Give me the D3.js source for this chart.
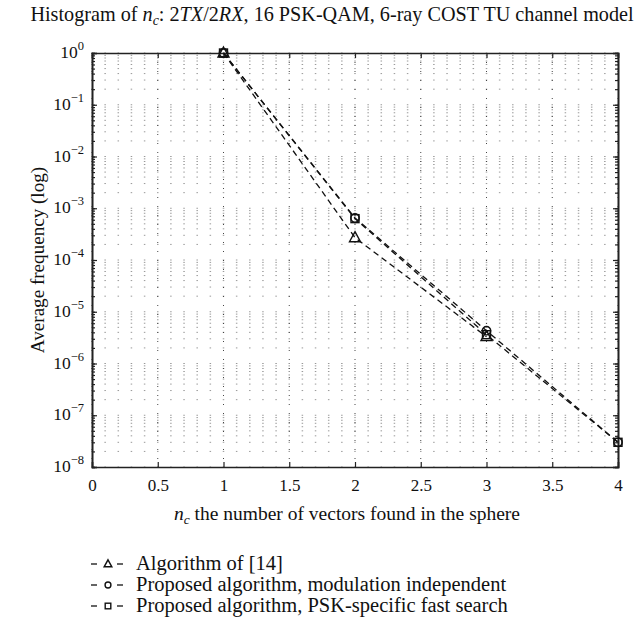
<!DOCTYPE html>
<html><head><meta charset="utf-8">
<script src="https://cdn.jsdelivr.net/npm/d3@7"></script>
<style>body{margin:0;background:#fff}text{font-family:"Liberation Serif","DejaVu Serif",serif;fill:#111}</style>
</head><body><svg id="c" width="641" height="625"></svg>
<script>
const xValues = [1, 2, 3, 4];
const alg14 = [1, 2.7e-4, 3.3e-6, null];
const propIndep = [1, 6.5e-4, 4.3e-6, 3.0e-8];
const propPSK = [1, 6.3e-4, 3.6e-6, 3.0e-8];
const xTicks = [0, 0.5, 1, 1.5, 2, 2.5, 3, 3.5, 4];
const yTickExps = [0, -1, -2, -3, -4, -5, -6, -7, -8];
const seriesNames = ["Algorithm of [14]", "Proposed algorithm, modulation independent", "Proposed algorithm, PSK-specific fast search"];
const seriesMarkers = ["triangle", "circle", "square"];

(function () {
const svg = d3.select("#c");
const L = 92, R = 618, T = 53, B = 467;
const x = d3.scaleLinear().domain([0, 4]).range([L, R]);
const y = d3.scaleLog().domain([1e-8, 1]).range([B, T]);

// grid
const g = svg.append("g");
const step = x(0.1) - x(0);
const yMinor = [];
for (let e = -8; e < 0; e++) for (let m = 1; m < 10; m++) yMinor.push(m * Math.pow(10, e));
yMinor.push(1);
g.selectAll(".hg").data(yMinor).join("line")
  .attr("x1", L - 0.75).attr("x2", R).attr("y1", d => y(d)).attr("y2", d => y(d))
  .attr("stroke", "#999").attr("stroke-width", 1)
  .attr("stroke-dasharray", `1.5 ${step - 1.5}`);
g.selectAll(".vg").data(xTicks).join("line")
  .attr("x1", d => x(d)).attr("x2", d => x(d)).attr("y1", T).attr("y2", B)
  .attr("stroke", "#444").attr("stroke-width", 1).attr("stroke-dasharray", "1 8");

// axes box
const axisG = svg.append("g");
const majorY = yTickExps.map(e => Math.pow(10, e));
const axB = axisG.append("g").attr("transform", `translate(0,${B})`)
  .call(d3.axisBottom(x).tickValues(xTicks).tickSize(-5).tickFormat(d3.format("")).tickPadding(12));
axisG.append("g").attr("transform", `translate(0,${T})`)
  .call(d3.axisTop(x).tickValues(xTicks).tickSize(-5).tickFormat(""));
axisG.append("g").attr("transform", `translate(${L},0)`)
  .call(d3.axisLeft(y).tickValues(majorY).tickSize(-5).tickFormat(""));
axisG.append("g").attr("transform", `translate(${L},0)`)
  .call(d3.axisLeft(y).tickValues(yMinor).tickSize(-3).tickFormat(""));
axisG.append("g").attr("transform", `translate(${R},0)`)
  .call(d3.axisRight(y).tickValues(majorY).tickSize(-5).tickFormat(""));
axisG.append("g").attr("transform", `translate(${R},0)`)
  .call(d3.axisRight(y).tickValues(yMinor).tickSize(-3).tickFormat(""));
axisG.selectAll(".domain").attr("stroke", "#222").attr("stroke-width", 1.6);
axisG.selectAll(".tick line").attr("stroke", "#222").attr("stroke-width", 1.2);
axB.selectAll("text").attr("font-size", 17).attr("font-family", "Liberation Serif").attr("fill", "#111");

// y tick labels
const yl = svg.append("g").selectAll("text").data(yTickExps).join("text")
  .attr("x", 84).attr("y", d => y(Math.pow(10, d)) + 5).attr("text-anchor", "end").attr("font-size", 17.5);
yl.append("tspan").text("10");
yl.append("tspan").attr("dy", -8).attr("font-size", 12.5).text(d => d === 0 ? "0" : "\u2212" + (-d));

// series
const series = [alg14, propIndep, propPSK].map((vals, i) => ({
  name: seriesNames[i], marker: seriesMarkers[i],
  pts: xValues.map((xv, j) => ({x: xv, y: vals[j]})).filter(p => p.y !== null)
}));
const line = d3.line().x(d => x(d.x)).y(d => y(d.y));
svg.append("g").selectAll("path").data(series).join("path")
  .attr("d", d => line(d.pts)).attr("fill", "none").attr("stroke", "#111")
  .attr("stroke-width", 1.3).attr("stroke-dasharray", "6 4");

function drawMarker(sel, type, size) {
  if (type === "triangle") {
    const h = size;
    sel.append("path").attr("d", `M0,${-h * 0.6}L${h * 0.55},${h * 0.4}L${-h * 0.55},${h * 0.4}Z`);
  } else if (type === "circle") {
    sel.append("circle").attr("r", size * 0.42);
  } else {
    sel.append("rect").attr("x", -size * 0.4).attr("y", -size * 0.4).attr("width", size * 0.8).attr("height", size * 0.8);
  }
  sel.attr("fill", "none").attr("stroke", "#111").attr("stroke-width", 1.4);
}
series.forEach(s => {
  s.pts.forEach(p => {
    const m = svg.append("g").attr("transform", `translate(${x(p.x)},${y(p.y)})`);
    drawMarker(m, s.marker, 10);
  });
});

// title
const title = svg.append("text").attr("x", 332).attr("y", 21).attr("text-anchor", "middle").attr("font-size", 20.2);
title.append("tspan").text("Histogram of ");
title.append("tspan").attr("font-style", "italic").text("n");
title.append("tspan").attr("font-style", "italic").attr("font-size", 14).attr("dy", 4).text("c");
title.append("tspan").attr("dy", -4).text(": 2");
title.append("tspan").attr("font-style", "italic").text("TX");
title.append("tspan").text("/2");
title.append("tspan").attr("font-style", "italic").text("RX");
title.append("tspan").text(", 16 PSK-QAM, 6-ray COST TU channel model");

// axis labels
const xl = svg.append("text").attr("x", 347).attr("y", 520).attr("text-anchor", "middle").attr("font-size", 19.5);
xl.append("tspan").attr("font-style", "italic").text("n");
xl.append("tspan").attr("font-style", "italic").attr("font-size", 13.5).attr("dy", 4).text("c");
xl.append("tspan").attr("dy", -4).text(" the number of vectors found in the sphere");
svg.append("text").attr("transform", `translate(44,${(T + B) / 2}) rotate(-90)`)
  .attr("text-anchor", "middle").attr("font-size", 19.1).text("Average frequency (log)");

// legend
const legY = [564, 585, 606];
const leg = svg.append("g").selectAll("g").data(series).join("g")
  .attr("transform", (d, i) => `translate(0,${legY[i]})`);
leg.append("line").attr("x1", 91).attr("x2", 97).attr("stroke", "#111").attr("stroke-width", 1.3);
leg.append("line").attr("x1", 117).attr("x2", 123).attr("stroke", "#111").attr("stroke-width", 1.3);
leg.each(function(d) {
  const m = d3.select(this).append("g").attr("transform", "translate(108,0)");
  drawMarker(m, d.marker, 7);
});
leg.append("text").attr("x", 136).attr("y", 6).attr("font-size", 20.5).text(d => d.name);
})();
</script></body></html>
